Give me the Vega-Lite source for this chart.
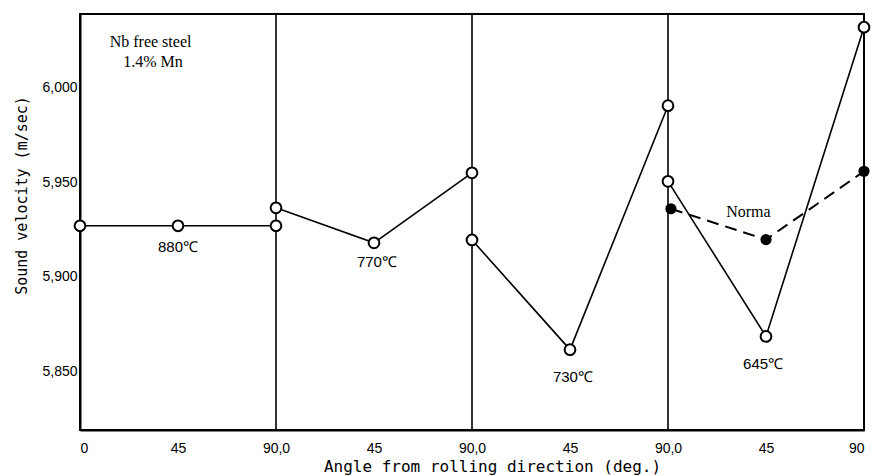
{
  "$schema": "https://vega.github.io/schema/vega-lite/v6.json",
  "width": 784,
  "height": 416,
  "autosize": "none",
  "padding": {"left": 80, "top": 14, "right": 18, "bottom": 46},
  "background": "white",
  "config": {
    "view": {"stroke": "black", "strokeWidth": 2},
    "axis": {"grid": false, "ticks": false, "tickSize": 0, "domainColor": "black", "domainWidth": 2, "labelColor": "black", "titleColor": "black", "labelFont": "Liberation Sans", "labelFontSize": 14, "titleFont": "DejaVu Sans Mono", "titleFontWeight": "normal"}
  },
  "datasets": {
    "points": [
      {"series": "880", "x": 0, "y": 5927},
      {"series": "880", "x": 1, "y": 5927},
      {"series": "880", "x": 2, "y": 5927},
      {"series": "770", "x": 2, "y": 5936.5},
      {"series": "770", "x": 3, "y": 5918},
      {"series": "770", "x": 4, "y": 5955},
      {"series": "730", "x": 4, "y": 5919.5},
      {"series": "730", "x": 5, "y": 5861.5},
      {"series": "730", "x": 6, "y": 5990.5},
      {"series": "645", "x": 6, "y": 5950.5},
      {"series": "645", "x": 7, "y": 5868.5},
      {"series": "645", "x": 8, "y": 6032}
    ],
    "normal": [
      {"series": "Normal", "x": 6.03, "y": 5936},
      {"series": "Normal", "x": 7, "y": 5919.7},
      {"series": "Normal", "x": 8, "y": 5955.8}
    ],
    "dividers": [{"x": 2}, {"x": 4}, {"x": 6}],
    "xticks": [{"x": 1}, {"x": 3}, {"x": 5}, {"x": 7}],
    "yticks": [{"y": 5850}, {"y": 5900}, {"y": 5950}, {"y": 6000}],
    "temps": [
      {"label": "880℃", "x": 1, "y": 5916},
      {"label": "770℃", "x": 3.03, "y": 5908},
      {"label": "730℃", "x": 5.03, "y": 5847},
      {"label": "645℃", "x": 6.97, "y": 5854}
    ],
    "notes": [
      {"label": "Nb free steel", "x": 0.72, "y": 6024},
      {"label": "1.4% Mn", "x": 0.745, "y": 6013.8},
      {"label": "Norma", "x": 6.82, "y": 5934.5}
    ]
  },
  "encoding": {
    "x": {
      "field": "x", "type": "quantitative",
      "scale": {"domain": [0, 8], "nice": false, "zero": false},
      "axis": {
        "values": [0, 1, 2, 3, 4, 5, 6, 7, 8],
        "labelExpr": "['0','45','90,0','45','90,0','45','90,0','45','90'][datum.value]",
        "labelPadding": 11,
        "title": "Angle from rolling direction (deg.)",
        "titleFontSize": 16, "titlePadding": 3, "titleX": 412
      }
    },
    "y": {
      "field": "y", "type": "quantitative",
      "scale": {"domain": [5819, 6039], "nice": false, "zero": false},
      "axis": {
        "values": [5850, 5900, 5950, 6000],
        "format": ",d",
        "labelPadding": 3,
        "title": "Sound velocity (m/sec)",
        "titleFontSize": 15, "titlePadding": 12, "titleY": 181
      }
    }
  },
  "layer": [
    {
      "data": {"name": "dividers"},
      "mark": {"type": "rule", "color": "black", "strokeWidth": 1.6},
      "encoding": {"y": null}
    },
    {
      "data": {"name": "xticks"},
      "mark": {"type": "rule", "color": "black", "strokeWidth": 2},
      "encoding": {"y": {"datum": 5819}, "y2": {"datum": 5823.5}}
    },
    {
      "data": {"name": "yticks"},
      "mark": {"type": "rule", "color": "black", "strokeWidth": 2},
      "encoding": {"x": {"datum": 0}, "x2": {"datum": 0.09}}
    },
    {
      "data": {"name": "points"},
      "mark": {"type": "line", "color": "black", "strokeWidth": 1.6},
      "encoding": {"detail": {"field": "series"}}
    },
    {
      "data": {"name": "normal"},
      "mark": {"type": "line", "color": "black", "strokeWidth": 2, "strokeDash": [12, 7]},
      "encoding": {"detail": {"field": "series"}}
    },
    {
      "data": {"name": "points"},
      "mark": {"type": "point", "shape": "circle", "filled": true, "fill": "white", "stroke": "black", "strokeWidth": 2, "size": 115, "opacity": 1}
    },
    {
      "data": {"name": "normal"},
      "mark": {"type": "point", "shape": "circle", "filled": true, "color": "black", "size": 125, "opacity": 1}
    },
    {
      "data": {"name": "temps"},
      "mark": {"type": "text", "font": "Liberation Sans", "fontSize": 15, "color": "black"},
      "encoding": {"text": {"field": "label"}}
    },
    {
      "data": {"name": "notes"},
      "mark": {"type": "text", "font": "Liberation Serif", "fontSize": 16, "color": "black"},
      "encoding": {"text": {"field": "label"}}
    }
  ]
}
